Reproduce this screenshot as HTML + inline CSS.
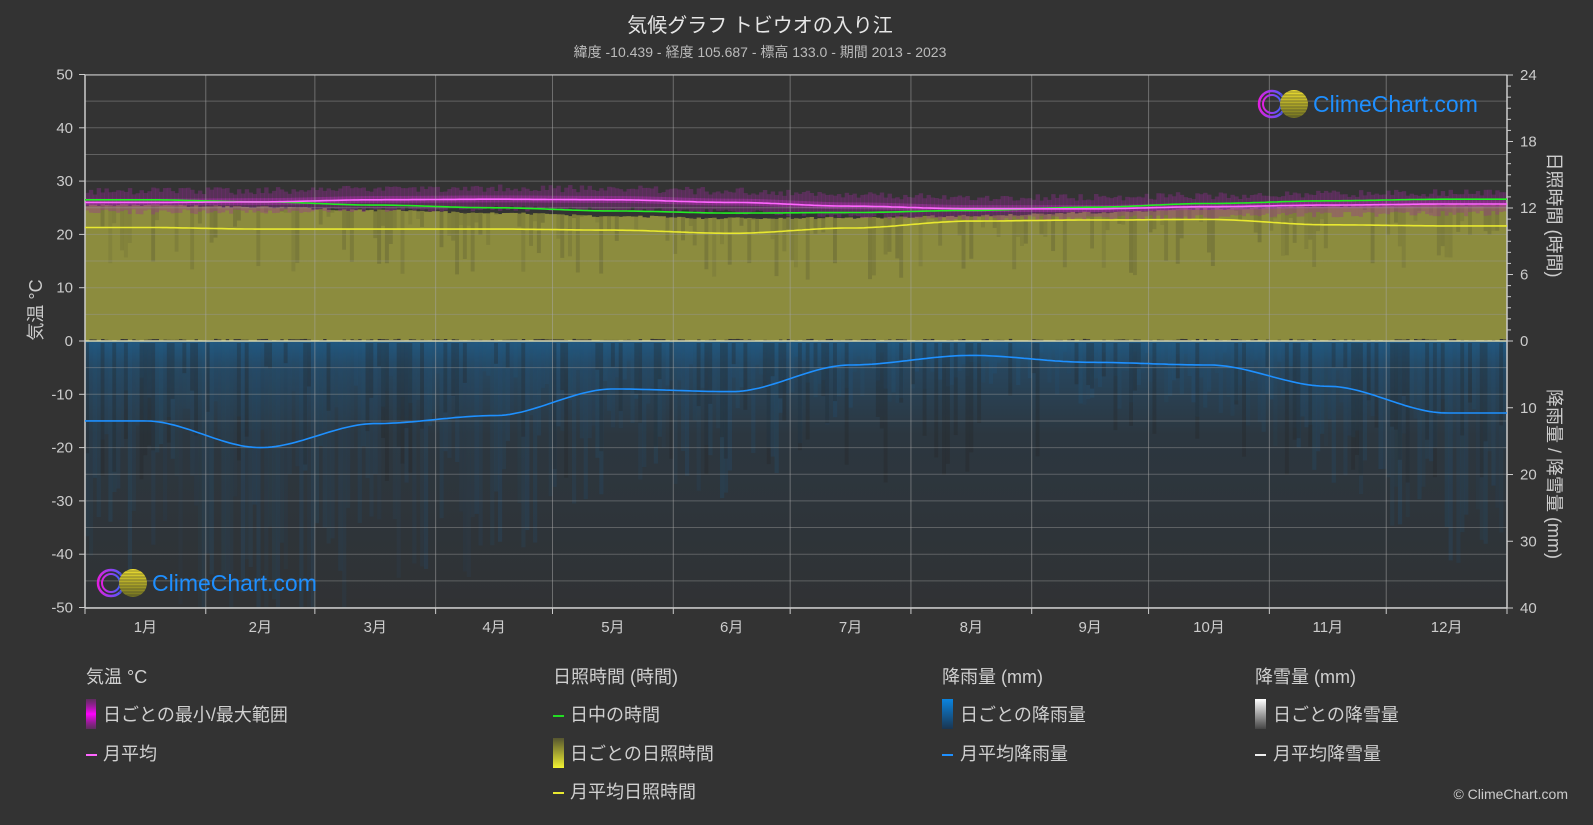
<!DOCTYPE html>
<html><head><meta charset="utf-8"><style>
html,body{margin:0;padding:0;background:#333333;}
svg{display:block;font-family:"Liberation Sans","Noto Sans CJK JP",sans-serif;}
</style></head><body>
<svg id="s" width="1593" height="825" xmlns="http://www.w3.org/2000/svg">
<defs>
<linearGradient id="gPink" x1="0" y1="0" x2="0" y2="1"><stop offset="0" stop-color="#a020a0" stop-opacity="0.4"/><stop offset="0.5" stop-color="#ff00ff"/><stop offset="1" stop-color="#a020a0" stop-opacity="0.4"/></linearGradient>
<linearGradient id="gYel" x1="0" y1="0" x2="0" y2="1"><stop offset="0" stop-color="#555530"/><stop offset="1" stop-color="#f2f232"/></linearGradient>
<linearGradient id="gBlue" x1="0" y1="0" x2="0" y2="1"><stop offset="0" stop-color="#0a84e0"/><stop offset="1" stop-color="#1a3550"/></linearGradient>
<linearGradient id="gWhite" x1="0" y1="0" x2="0" y2="1"><stop offset="0" stop-color="#ffffff"/><stop offset="1" stop-color="#444"/></linearGradient>
<linearGradient id="gRainBg" x1="0" y1="0" x2="0" y2="1"><stop offset="0" stop-color="#22587f"/><stop offset="0.1" stop-color="#27465e"/><stop offset="0.35" stop-color="#2c3740"/><stop offset="1" stop-color="#303234"/></linearGradient>
<linearGradient id="gSun" x1="0" y1="0" x2="0" y2="1"><stop offset="0" stop-color="#f0e030"/><stop offset="1" stop-color="#707020"/></linearGradient>
<linearGradient id="gRing" x1="0" y1="0" x2="1" y2="0"><stop offset="0" stop-color="#e020e0"/><stop offset="1" stop-color="#4060ff"/></linearGradient>
</defs>
<g id="plot"></g>
<text x="760" y="32" fill="#e6e6e6" font-size="20" text-anchor="middle">気候グラフ トビウオの入り江</text>
<text x="760" y="57" fill="#bbbbbb" font-size="14" text-anchor="middle">緯度 -10.439 - 経度 105.687 - 標高 133.0 - 期間 2013 - 2023</text>
<text transform="translate(42,310) rotate(-90)" fill="#cccccc" font-size="18" text-anchor="middle">気温 °C</text>
<text transform="translate(1548,215) rotate(90)" fill="#cccccc" font-size="18" text-anchor="middle">日照時間 (時間)</text>
<text transform="translate(1548,474) rotate(90)" fill="#cccccc" font-size="18" text-anchor="middle">降雨量 / 降雪量 (mm)</text>
<g fill="#d0d0d0" font-size="18">
<text x="86" y="683">気温 °C</text>
<rect x="86" y="699" width="10" height="30" fill="url(#gPink)"/>
<text x="103" y="721">日ごとの最小/最大範囲</text>
<rect x="86" y="754" width="11" height="2" fill="#ff66ff"/>
<text x="103" y="760">月平均</text>
<text x="553" y="683">日照時間 (時間)</text>
<rect x="553" y="715" width="11" height="2" fill="#22dd22"/>
<text x="570" y="721">日中の時間</text>
<rect x="553" y="738" width="11" height="30" fill="url(#gYel)"/>
<text x="570" y="760">日ごとの日照時間</text>
<rect x="553" y="792" width="11" height="2" fill="#e8e830"/>
<text x="570" y="798">月平均日照時間</text>
<text x="942" y="683">降雨量 (mm)</text>
<rect x="942" y="699" width="11" height="30" fill="url(#gBlue)"/>
<text x="960" y="721">日ごとの降雨量</text>
<rect x="942" y="754" width="11" height="2" fill="#1e90ff"/>
<text x="960" y="760">月平均降雨量</text>
<text x="1255" y="683">降雪量 (mm)</text>
<rect x="1255" y="699" width="11" height="30" fill="url(#gWhite)"/>
<text x="1273" y="721">日ごとの降雪量</text>
<rect x="1255" y="754" width="11" height="2" fill="#eeeeee"/>
<text x="1273" y="760">月平均降雪量</text>
</g>
<text x="1568" y="799" fill="#cccccc" font-size="14" text-anchor="end">© ClimeChart.com</text>
</svg>
<script>
(function(){
var NS="http://www.w3.org/2000/svg",g=document.getElementById("plot");
function el(t,a){var e=document.createElementNS(NS,t);for(var k in a)e.setAttribute(k,a[k]);g.appendChild(e);return e;}
var L=85,R=1507,T=75,B=608,Z=341,W=R-L;
function Y(t){return Z-t*5.33;}
var cum=[0,31,59,90,120,151,181,212,243,273,304,334,365];
function X(d){return L+d*W/365;}
var seed=7;function rnd(){seed=(seed*16807)%2147483647;return seed/2147483647;}
el("rect",{x:L,y:Z,width:W,height:B-Z,fill:"url(#gRainBg)"});
var sun=[21.3,21,21,21,20.8,20.2,21.2,22.5,22.7,22.8,21.8,21.6];
var day=[26.5,26.1,25.5,25,24.4,24,24.1,24.5,25.1,25.8,26.3,26.6];
var tmp=[26,26.1,26.5,26.6,26.5,26,25.3,24.8,24.8,25.2,25.5,25.7];
var rain=[-15,-20,-15.5,-14,-9,-9.5,-4.5,-2.7,-4,-4.5,-8.5,-13.5];
function interp(arr,d){var mids=[];for(var i=0;i<12;i++)mids.push((cum[i]+cum[i+1])/2);
 if(d<=mids[0])return arr[0];if(d>=mids[11])return arr[11];
 for(var i=0;i<11;i++){if(d<=mids[i+1]){var f=(d-mids[i])/(mids[i+1]-mids[i]);f=f*f*(3-2*f);return arr[i]+(arr[i+1]-arr[i])*f;}}}
var dw=W/365;
for(var d=0;d<365;d++){
 var x=X(d),dl=interp(day,d);
 el("rect",{x:x,y:Y(dl-1.2+rnd()*0.4),width:dw+0.5,height:Z-Y(dl-1.2),fill:"#8c8c3e"});
 if(rnd()<0.5){var st=dl-1-rnd()*12;el("rect",{x:x,y:Y(dl-0.8),width:dw+0.3,height:Y(st)-Y(dl-0.8),fill:"#4a4a30",opacity:0.12+rnd()*0.18});}
 var tm=interp(tmp,d),hi=tm+1.4+rnd()*1.4,lo=tm-1.3-rnd()*1.0;
 el("rect",{x:x,y:Y(hi),width:dw+0.5,height:Y(lo)-Y(hi),fill:"#9a2a9a",opacity:0.35});
 el("rect",{x:x,y:Y(tm+0.7),width:dw+0.5,height:Y(tm-0.6)-Y(tm+0.7),fill:"#b030b0",opacity:0.45});
 var r=interp(rain,d);var depth=-r*(0.4+rnd()*2.8);if(depth>50)depth=50;
 el("rect",{x:x,y:Z,width:dw+0.3,height:Y(-depth)-Z,fill:"#1f5f90",opacity:0.06+rnd()*0.14});
 if(rnd()<0.35)el("rect",{x:x,y:Z+2,width:dw,height:20+rnd()*120,fill:"#262626",opacity:0.3});
}
for(var t=-50;t<=50;t+=5){el("line",{x1:L,x2:R,y1:Y(t),y2:Y(t),stroke:"#9a9a9a","stroke-opacity":0.45,"stroke-width":1});}
for(var i=1;i<12;i++){el("line",{x1:X(cum[i]),x2:X(cum[i]),y1:T,y2:B,stroke:"#aaaaaa","stroke-opacity":0.5,"stroke-width":1});}
el("line",{x1:L,x2:R,y1:Z,y2:Z,stroke:"#d8d8b0","stroke-width":1.5});
el("line",{x1:L,x2:R,y1:T,y2:T,stroke:"#cccccc","stroke-width":1});
el("line",{x1:L,x2:R,y1:B,y2:B,stroke:"#cccccc","stroke-width":1.5});
el("line",{x1:L,x2:L,y1:T,y2:B,stroke:"#cccccc","stroke-width":1.5});
el("line",{x1:R,x2:R,y1:T,y2:B,stroke:"#cccccc","stroke-width":1.5});
function curve(arr,col,w){var pts=[];for(var d=0;d<=365;d+=1)pts.push(X(d).toFixed(1)+","+Y(interp(arr,d)).toFixed(1));
 el("polyline",{points:pts.join(" "),fill:"none",stroke:col,"stroke-width":w});}
curve(day,"#22ee22",1.6);curve(tmp,"#ff66ff",1.6);curve(sun,"#e8e830",1.6);curve(rain,"#1e90ff",1.6);
for(var t=-50;t<=50;t+=10){el("line",{x1:L-6,x2:L,y1:Y(t),y2:Y(t),stroke:"#cccccc"});
 var tx=el("text",{x:L-12,y:Y(t)+5,fill:"#cccccc","font-size":15,"text-anchor":"end"});tx.textContent=t;}
for(var h=0;h<=24;h++){var yy=Z-h*(Z-T)/24;el("line",{x1:R,x2:R+(h%6==0?6:4),y1:yy,y2:yy,stroke:"#cccccc"});
 if(h%6==0){var tx=el("text",{x:R+13,y:yy+5,fill:"#cccccc","font-size":15});tx.textContent=h;}}
for(var m=0;m<=40;m+=10){var yy=Z+m*(B-Z)/40;el("line",{x1:R,x2:R+6,y1:yy,y2:yy,stroke:"#cccccc"});
 if(m>0){var tx=el("text",{x:R+13,y:yy+5,fill:"#cccccc","font-size":15});tx.textContent=m;}}
for(var i=0;i<=12;i++)el("line",{x1:X(cum[i]),x2:X(cum[i]),y1:B,y2:B+6,stroke:"#cccccc"});
for(var i=0;i<12;i++){var tx=el("text",{x:X((cum[i]+cum[i+1])/2),y:632,fill:"#cccccc","font-size":15,"text-anchor":"middle"});tx.textContent=(i+1)+"月";}
function logo(cx,cy){
 el("circle",{cx:cx,cy:cy,r:13,fill:"none",stroke:"url(#gRing)","stroke-width":2.5});
 el("circle",{cx:cx,cy:cy,r:9,fill:"none",stroke:"url(#gRing)","stroke-width":2});
 el("circle",{cx:cx+22,cy:cy,r:14,fill:"url(#gSun)"});
 for(var k=-12;k<=12;k+=3)el("line",{x1:cx+8,x2:cx+36,y1:cy+k,y2:cy+k,stroke:"#333","stroke-width":0.8,opacity:0.6});
 var tx=el("text",{x:cx+41,y:cy+8,fill:"#1e8fff","font-size":23});tx.textContent="ClimeChart.com";}
logo(1272,104);logo(111,583);
})();
</script>
</body></html>
